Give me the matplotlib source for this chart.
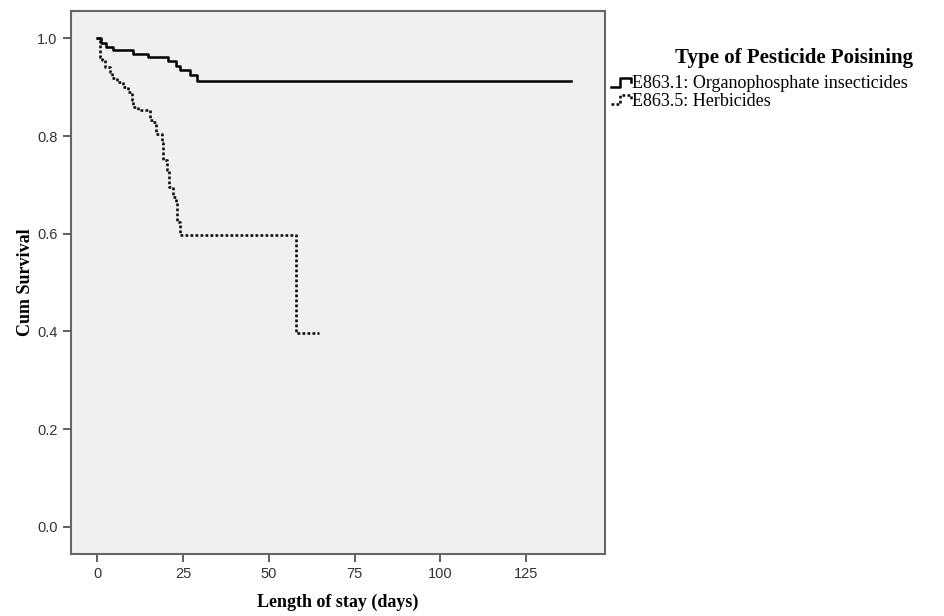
"""
Kaplan-Meier style survival curves by pesticide type.
"""
import matplotlib.pyplot as plt
from matplotlib.legend_handler import HandlerBase
from matplotlib.lines import Line2D

# step points (time in days, cumulative survival), drawn with where='post'
organo_days = [0, 0.9, 2.5, 4.6, 10.4, 14.8, 20.6, 23.0, 24.0, 27.0, 29.0, 138.0]
organo_surv = [1.0, 0.99, 0.983, 0.977, 0.968, 0.962, 0.953, 0.944, 0.935, 0.926, 0.913, 0.913]

herb_days = [0, 0.7, 1.2, 2.2, 3.6, 4.1, 5.6, 7.5, 9.0, 10.0, 10.3, 11.9, 15.3,
             16.3, 17.1, 18.7, 19.2, 20.2, 20.9, 22.1, 22.9, 23.1, 24.1, 57.9, 64.7]
herb_surv = [1.0, 0.962, 0.955, 0.941, 0.931, 0.918, 0.911, 0.901, 0.891, 0.874,
             0.859, 0.853, 0.833, 0.829, 0.805, 0.785, 0.751, 0.730, 0.696, 0.676,
             0.662, 0.624, 0.597, 0.396, 0.396]

legend_title = "Type of Pesticide Poisining"
series_labels = ["E863.1: Organophosphate insecticides", "E863.5: Herbicides"]
x_ticks = [0, 25, 50, 75, 100, 125]
y_ticks = [0.0, 0.2, 0.4, 0.6, 0.8, 1.0]

serif = ["Liberation Serif", "DejaVu Serif"]
sans = ["Liberation Sans Narrow", "Liberation Sans", "DejaVu Sans"]
dotted = (0, (1.1, 0.9))


class StepHandler(HandlerBase):
    def create_artists(self, legend, orig_handle, xdescent, ydescent,
                       width, height, fontsize, trans):
        x0, w, h = -xdescent, width, height
        xs = [x0, x0 + 0.45 * w, x0 + 0.45 * w, x0 + w, x0 + w]
        ys = [0.1 * h, 0.1 * h, 0.75 * h, 0.75 * h, 0.45 * h]
        line = Line2D(xs, ys, color=orig_handle.get_color(),
                      linewidth=orig_handle.get_linewidth(), transform=trans)
        if orig_handle.get_linestyle() != "-":
            line.set_dashes((1.1, 0.9))
        return [line]


fig = plt.figure(figsize=(9.44, 6.16), dpi=100)
ax = fig.add_axes([0.0749, 0.1006, 0.566, 0.8815])
ax.set_facecolor("#f0f0f0")

l1, = ax.step(organo_days, organo_surv, where="post", color="black", lw=1.8)
l2, = ax.step(herb_days, herb_surv, where="post", color="black", lw=1.8,
              linestyle=dotted)

ax.set_xlim(-7.8, 148)
ax.set_ylim(-0.056, 1.056)
ax.set_xticks(x_ticks)
ax.set_yticks(y_ticks)
ax.set_xticklabels([str(t) for t in x_ticks], family=sans, fontsize=10.5)
ax.set_yticklabels([f"{t:.1f}" for t in y_ticks], family=sans, fontsize=10.5)
ax.tick_params(direction="out", length=6, width=1.2, color="#444444",
               labelcolor="#333333")

for sp in ax.spines.values():
    sp.set_color("#666666")
    sp.set_linewidth(1.5)

ax.set_xlabel("Length of stay (days)", family=serif, fontweight="bold",
              fontsize=13, labelpad=9)
ax.set_ylabel("Cum Survival", family=serif, fontweight="bold", fontsize=13,
              labelpad=2)

fig.text(0.841, 0.906, legend_title, family=serif, fontweight="bold",
         fontsize=15, ha="center", va="center")
leg = fig.legend([l1, l2], series_labels, loc="upper left",
                 bbox_to_anchor=(0.647, 0.878), frameon=False,
                 handler_map={Line2D: StepHandler()},
                 prop={"family": serif, "size": 13},
                 handlelength=1.1, handleheight=0.8, handletextpad=0.1,
                 labelspacing=0.0, borderaxespad=0, borderpad=0.0)

fig.savefig("out.png", dpi=100)
